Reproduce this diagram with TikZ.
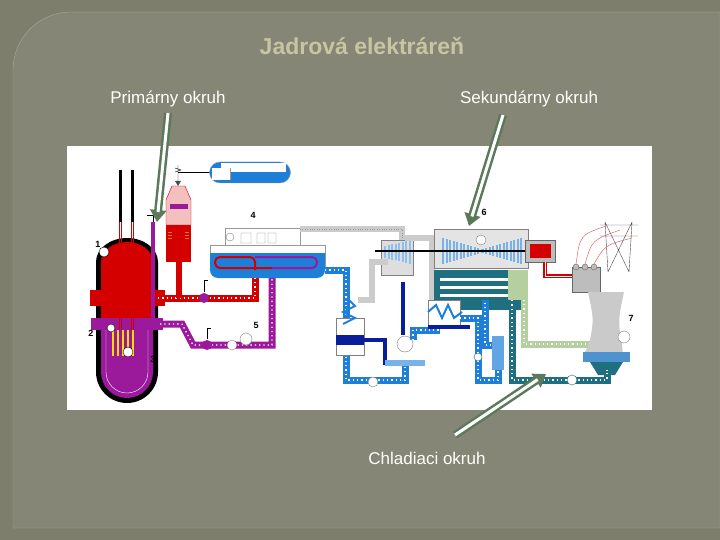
\documentclass[tikz,border=0pt]{standalone}
\usepackage{fontspec}
\setmainfont{Liberation Sans}
\usetikzlibrary{arrows.meta}
\definecolor{bgout}{HTML}{7E7E6C}
\definecolor{bgin}{HTML}{868676}
\definecolor{ttl}{HTML}{C8C5A2}
\definecolor{arrg}{HTML}{5B7A5B}
\definecolor{rd}{HTML}{D40000}
\definecolor{pu}{HTML}{9B1A9B}
\definecolor{bl}{HTML}{1E7FD8}
\definecolor{dbl}{HTML}{0A1E9A}
\definecolor{tl}{HTML}{1F6F80}
\definecolor{lg}{HTML}{B5CFA0}
\definecolor{gy}{HTML}{BDBDBD}
\newcommand\pp[2]{\draw[line width=7pt,#1] #2; \draw[white,line width=1.3pt,dash pattern=on 1.3pt off 3pt] #2;}
\newcommand\fatarrow[2]{\draw[line width=8pt,arrg,-{Triangle[length=12pt,width=16pt]}] #1 -- #2; \draw[line width=3pt,white,shorten >=10pt] #1 -- #2;}
\tikzset{lbl/.style={text=white,font=\fontsize{17}{20}\selectfont},num/.style={font=\bfseries\fontsize{9}{10}\selectfont,text=black}}
\begin{document}
\begin{tikzpicture}[x=1pt,y=-1pt]
\useasboundingbox (0,0) rectangle (720,540);
\fill[bgout] (0,0) rectangle (720,540);
\draw[gy!60!bgin,fill=bgin] (13,528) -- (13,70) arc[start angle=180,end angle=270,radius=58] -- (720,12) -- (720,528) -- cycle;
\node[text=ttl,font=\bfseries\fontsize{23}{26}\selectfont] (title) at (362,46) {Jadrová elektráreň};
\node[lbl] (lp) at (168,99) {Primárny okruh};
\node[lbl] (ls) at (529,99) {Sekundárny okruh};
\node[lbl] (lc) at (427,458) {Chladiaci okruh};
\fill[white] (67,146) rectangle (652,410);
% ---------- reactor
\fill[black] (96,262) -- (96,372) arc[start angle=180,end angle=0,radius=31] -- (158,262) arc[start angle=0,end angle=-180,x radius=31,y radius=24] -- cycle;
\fill[rd] (101,262) -- (101,322) -- (153,322) -- (153,262) arc[start angle=0,end angle=-180,x radius=26,y radius=20] -- cycle;
\fill[pu] (101,322) -- (101,372) arc[start angle=180,end angle=0,radius=26] -- (153,322) -- cycle;
\draw[white,thin] (106,330) -- (106,372) arc[start angle=180,end angle=0,radius=21] -- (148,330);
\fill[rd] (90,290) rectangle (165,306);
\fill[pu] (91,318) rectangle (163,330);
\draw[line width=3pt,black] (120,170) -- (120,222) (132,170) -- (132,222);
\draw[rd,thin] (119,222) -- (119,330) (121,222) -- (121,330) (131,222) -- (131,330) (133,222) -- (133,330);
\foreach \x in {113,118,123,128,133} \draw[line width=2pt,yellow!80!orange] (\x,330) -- (\x,356);
\fill[white,draw=black,thin] (104,252) circle (5);
\fill[white,draw=black,thin] (111,328) circle (4);
\fill[white,draw=black,thin] (128,352) circle (5);
% ---------- pressurizer
\draw[pu,line width=4pt] (153,222) -- (153,322);
\draw[black] (147,215) -- (153,215) -- (153,222);
\pp{rd}{(158,298) -- (255,298) -- (255,270)}
\draw[line width=6pt,rd] (179,262) -- (179,298);
\fill[rd] (166,200) rectangle (191,262);
\fill[rd!25,draw=rd] (166,200) -- (166,225) -- (191,225) -- (191,200) -- (185,186) -- (172,186) -- cycle;
\fill[pu] (170,204) rectangle (188,209);
\foreach \y in {232,235,238} \draw[orange] (168,\y) -- (172,\y) (185,\y) -- (189,\y);
\fill[black!70] (175,181) -- (181,181) -- (178,186) -- cycle;
\draw[black] (178,181) -- (178,165) (175,168) -- (181,170) -- (175,172);
\draw[black] (178,172) -- (225,172);
\fill[bl,draw=black!40] (220,162) -- (280,162) arc[start angle=-90,end angle=90,radius=10.5] -- (220,183) arc[start angle=90,end angle=270,radius=10.5];
\fill[white] (221,163) rectangle (286,172);
\fill[white] (212,168) rectangle (230,180);
\draw[black!40] (230,168) -- (230,180);
% ---------- primary loop purple
\pp{pu}{(160,324) -- (182,324) -- (193,345) -- (272,345) -- (272,270)}
\fill[pu] (204,298) circle (5); \draw (204,292) -- (204,280) -- (208,280);
\fill[pu] (207,345) circle (5); \draw (207,339) -- (207,328) -- (211,328);
\fill[white,draw=black!50] (232,345) circle (5);
\fill[white,draw=black!50] (246,339) circle (6);
% ---------- steam generator
\fill[white,draw=black!40] (225,228) rectangle (300,248);
\fill[white,draw=black!40] (210,245) rectangle (325,270);
\fill[bl] (210,253) -- (325,253) -- (325,270) arc[start angle=0,end angle=90,radius=8] -- (218,278) arc[start angle=90,end angle=180,radius=8] -- cycle;
\draw[rd,line width=2pt,rounded corners=5pt] (255,270) -- (255,257) -- (215,257) -- (215,268) -- (272,268) ;
\draw[pu,line width=2pt,rounded corners=5pt] (272,268) -- (317,268) -- (317,257) -- (255,257);
\draw[black!50] (230,237) circle (4) (241,233) rectangle (251,243) (257,233) rectangle (265,243) (268,233) rectangle (276,243);
\draw[white!80!black,line width=6pt] (300,229) -- (402,229) -- (402,246);
\draw[black!40,dotted] (300,229) -- (402,229) -- (402,246);
% ---------- turbines
\fill[gy!50,draw=black!50] (381,240) rectangle (413,275);
\foreach \i in {0,...,7} \fill[bl!50] (384+\i*3.5,{246-\i*0.8}) rectangle (386+\i*3.5,{258+\i*0.8});
\draw[white!80!black,line width=6pt] (405,238) -- (432,238) -- (432,300) -- (430,300);
\fill[gy!40,draw=black!50] (434,229) rectangle (528,268);
\foreach \i in {0,...,11} {
 \fill[bl!60] ({442+\i*3.5},{238+\i*1}) rectangle ({444+\i*3.5},{264-\i*1});
 \fill[bl!60] ({520-\i*3.5},{238+\i*1}) rectangle ({522-\i*3.5},{264-\i*1});}
\fill[white,draw=black!50] (481,240) circle (5);
\draw[line width=1.5pt] (375,251) -- (528,251);
\fill[gy,draw=black!60] (525,240) rectangle (555,262);
\fill[rd] (530,244) rectangle (551,258);
\draw[rd,line width=2pt,double=white] (545,262) -- (545,276) -- (572,276);
\fill[gy,draw=black!60] (572,267) rectangle (600,292);
\foreach \x in {576,585,594} \fill[gy,draw=black!60] (\x,267) circle (3);
\draw[black!70] (605,222) -- (608,272) (632,222) -- (629,272) (600,225) -- (638,225) (600,236) -- (638,236) (605,222) -- (629,272) (632,222)--(608,272);
\draw[rd!70] (576,264) .. controls (580,235) .. (606,226) (585,264) .. controls (592,240) .. (620,230) (594,264) .. controls (605,245) .. (632,238);
% ---------- condenser
\fill[tl] (434,270) rectangle (528,310);
\foreach \y in {278,286,294} \fill[white] (440,\y) rectangle (522,\y+3);
\fill[lg] (508,270) rectangle (528,300);
\draw[lg,line width=7pt] (524,300) -- (524,344) -- (600,344);
\draw[white,line width=1.2pt,dash pattern=on 1.2pt off 3pt] (524,300) -- (524,344) -- (600,344);
% cooling tower
\fill[gy!80] (588,292) -- (624,292) .. controls (618,320) .. (622,345) -- (623,355) -- (583,355) -- (589,345) .. controls (594,320) .. (588,292) -- cycle;
\fill[bl!70!gy] (583,352) rectangle (630,362);
\fill[tl] (590,362) -- (623,362) -- (615,375) -- (598,375) -- cycle;
\fill[white,draw=black!50] (624,337) circle (6);
\pp{tl}{(512,300) -- (512,380) -- (607,380) -- (607,370)}
\fill[white,draw=tl] (572,380) circle (5);
% ---------- feedwater blue
\pp{bl}{(325,270) -- (346,270) -- (346,380) -- (405,380) -- (405,360)}
\fill[white,draw=black!50] (373,382) circle (5);
\fill[white,draw=black!50] (336,318) rectangle (364,355);
\fill[dbl] (336,335) rectangle (364,345);
\draw[bl,line width=2pt] (349,300) -- (355,306) -- (343,312) -- (355,318) -- (343,324);
\draw[white!80!black,line width=6pt] (358,300) -- (372,300) -- (372,262) -- (388,262);
\draw[dbl,line width=4pt] (362,340) -- (385,340) -- (385,365);
\fill[bl!60] (385,360) rectangle (425,366);
\draw[dbl,line width=4pt] (403,282) -- (403,335);
\fill[white,draw=black!50] (405,344) circle (8);
\pp{bl}{(413,340) -- (413,330) -- (440,330)}
\fill[white,draw=black!50] (428,300) rectangle (460,325);
\draw[bl,line width=2pt] (428,312) -- (436,305) -- (442,318) -- (448,305) -- (454,318) -- (462,312);
\draw[dbl,line width=4pt] (428,327) -- (470,327);
\pp{bl}{(460,318) -- (478,318) -- (478,380) -- (498,380) -- (498,345) -- (485,345) -- (485,300)}
\fill[white,draw=tl] (478,357) circle (4);
\fill[bl!70] (492,336) rectangle (504,370);
% ---------- numbers
\node[num] (n1) at (98,244) {1};
\node[num] (n2) at (91,333) {2};
\node[num] (n3) at (153,359) {3};
\node[num] (n4) at (253,215) {4};
\node[num] (n5) at (256,325) {5};
\node[num] (n6) at (484,212) {6};
\node[num] (n7) at (631,318) {7};
% ---------- pointer arrows
\coordinate (pa) at (168,113); \coordinate (pb) at (157,222);
\coordinate (sa) at (503,115); \coordinate (sb) at (469,226);
\coordinate (ca) at (455,435); \coordinate (cb) at (546,374);
\fatarrow{(pa)}{(pb)}
\fatarrow{(sa)}{(sb)}
\fatarrow{(ca)}{(cb)}
\end{tikzpicture}
\end{document}
